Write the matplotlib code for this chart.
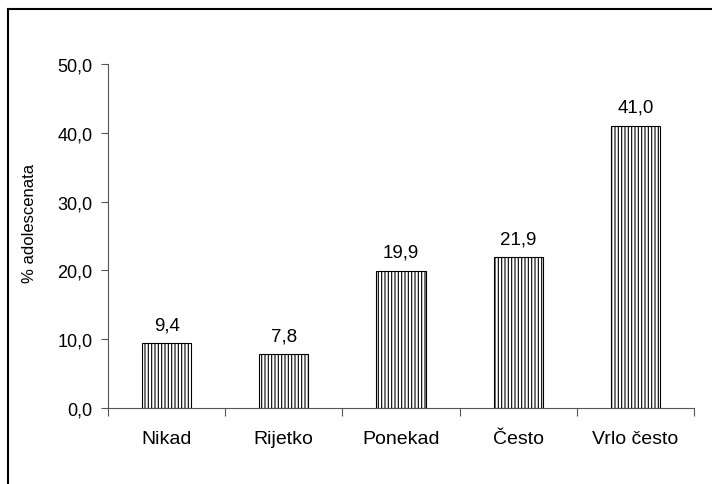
import matplotlib
matplotlib.use("Agg")
import matplotlib.pyplot as plt
from matplotlib.lines import Line2D

plt.rcParams['font.family'] = ['Liberation Sans', 'DejaVu Sans']
plt.rcParams['hatch.linewidth'] = 0.8
plt.rcParams['hatch.color'] = '#333333'

categories = ["Nikad", "Rijetko", "Ponekad", "Često", "Vrlo često"]
values = [9.4, 7.8, 19.9, 21.9, 41.0]
yticks = [0, 10, 20, 30, 40, 50]

fig = plt.figure(figsize=(7.12, 4.85), dpi=100)
ax = fig.add_axes([0.1517, 0.1567, 0.8230, 0.7093])

x = list(range(len(categories)))
bars = ax.bar(x, values, width=0.42, color='white', edgecolor='black',
              linewidth=0.8, hatch='|||||')

for xi, v in zip(x, values):
    ax.text(xi, v + 1.5, f"{v:.1f}".replace('.', ','), ha='center', va='bottom', fontsize=13.5)

ax.set_xlim(-0.5, len(categories) - 0.5)
ax.set_ylim(0, 50)
ax.set_yticks(yticks)
ax.set_yticklabels([f"{t:.1f}".replace('.', ',') for t in yticks], fontsize=13)

# category labels between boundary ticks
ax.set_xticks([i - 0.5 for i in range(len(categories) + 1)])
ax.set_xticklabels([])
ax.set_xticks(x, minor=True)
ax.set_xticklabels(categories, minor=True, fontsize=14)
ax.tick_params(axis='x', which='minor', length=0, pad=16)
ax.tick_params(axis='x', which='major', length=6, color='#555555', width=0.8)
ax.tick_params(axis='y', length=5, color='#555555', width=0.8, pad=6)

for s in ['top', 'right']:
    ax.spines[s].set_visible(False)
for s in ['left', 'bottom']:
    ax.spines[s].set_color('#555555')
    ax.spines[s].set_linewidth(0.8)

ax.set_ylabel("% adolescenata", fontsize=12)
ax.yaxis.set_label_coords(-0.121, 0.54)

# outer frame (cropped on right and bottom)
fig.add_artist(Line2D([8 / 712, 1.0], [1 - 10 / 485, 1 - 10 / 485], color='black', linewidth=1.5))
fig.add_artist(Line2D([8 / 712, 8 / 712], [0.0, 1 - 10 / 485], color='black', linewidth=1.5))

fig.savefig("out.png", dpi=100)
